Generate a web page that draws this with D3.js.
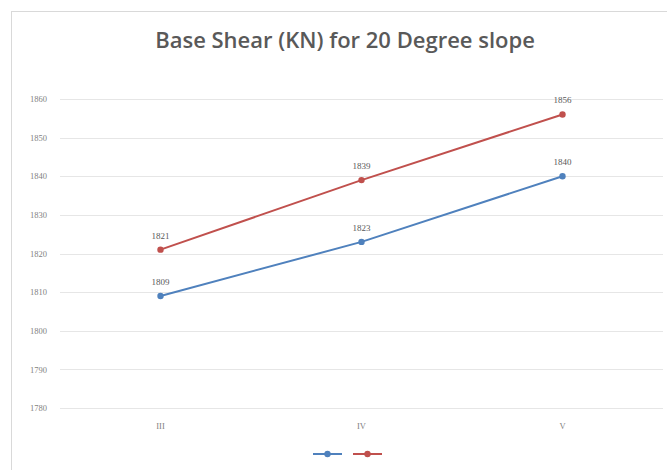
<!DOCTYPE html>
<html>
<head>
<meta charset="utf-8">
<script src="https://cdn.jsdelivr.net/npm/d3@7"></script>
<style>
  body { margin: 0; background: #fff; }
  text { font-family: "Liberation Serif", serif; }
</style>
</head>
<body>
<svg id="chart"></svg>
<script>
// categories and series values
const categories = ["III", "IV", "V"];
const seriesBlue = [1809, 1823, 1840];
const seriesRed = [1821, 1839, 1856];
const yTicks = [1780, 1790, 1800, 1810, 1820, 1830, 1840, 1850, 1860];

const width = 667, height = 470;
const svg = d3.select("#chart").attr("width", width).attr("height", height);

// chart frame (right/bottom cropped off in the reference)
svg.append("rect")
  .attr("x", 11.5).attr("y", 11.5)
  .attr("width", 700).attr("height", 500)
  .attr("fill", "#fff").attr("stroke", "#d9d9d9");

svg.append("text")
  .attr("x", 345).attr("y", 48)
  .attr("text-anchor", "middle")
  .style("font-family", "'Open Sans', sans-serif")
  .style("font-size", "22px")
  .style("font-weight", "600")
  .attr("fill", "#595959")
  .text("Base Shear (KN) for 20 Degree slope");

const plotLeft = 60, plotRight = 663;

const x = d3.scaleBand().domain(categories).range([plotLeft, plotRight]);
const y = d3.scaleLinear().domain([1780, 1860]).range([408, 99]);

// gridlines
svg.append("g")
  .selectAll("line")
  .data(yTicks)
  .enter()
  .append("line")
  .attr("x1", plotLeft).attr("x2", plotRight)
  .attr("y1", (d) => Math.round(y(d)) + 0.5)
  .attr("y2", (d) => Math.round(y(d)) + 0.5)
  .attr("stroke", "#e6e6e6");

// y axis labels
const yAxis = svg.append("g")
  .attr("transform", `translate(${plotLeft - 10},0)`)
  .call(d3.axisLeft(y).tickValues(yTicks).tickSize(0).tickFormat(d3.format("d")));
yAxis.select(".domain").remove();
yAxis.selectAll("text")
  .attr("fill", "#7f7f7f")
  .style("font-size", "8.5px")
  .style("font-family", "'Liberation Serif', serif");

// x axis labels
const xAxis = svg.append("g")
  .attr("transform", "translate(0,420)")
  .call(d3.axisBottom(x).tickSize(0));
xAxis.select(".domain").remove();
xAxis.selectAll("text")
  .attr("fill", "#7f7f7f")
  .style("font-size", "8.5px")
  .style("font-family", "'Liberation Serif', serif");

const cx = (c) => x(c) + x.bandwidth() / 2;

const series = [
  { values: seriesBlue, color: "#4f81bd" },
  { values: seriesRed, color: "#c0504d" },
];

const line = d3.line()
  .x((d, i) => cx(categories[i]))
  .y((d) => y(d));

series.forEach((s) => {
  svg.append("path")
    .datum(s.values)
    .attr("d", line)
    .attr("fill", "none")
    .attr("stroke", s.color)
    .attr("stroke-width", 2);

  svg.append("g")
    .selectAll("circle")
    .data(s.values)
    .enter()
    .append("circle")
    .attr("cx", (d, i) => cx(categories[i]))
    .attr("cy", (d) => y(d))
    .attr("r", 3.2)
    .attr("fill", s.color);

  svg.append("g")
    .selectAll("text")
    .data(s.values)
    .enter()
    .append("text")
    .attr("x", (d, i) => cx(categories[i]))
    .attr("y", (d) => y(d) - 11)
    .attr("text-anchor", "middle")
    .attr("fill", "#595959")
    .style("font-size", "9px")
    .text((d) => d);
});

// legend (entries have no names)
const legend = svg.append("g").attr("transform", "translate(0,454)");
series.forEach((s, i) => {
  const lx = 313 + i * 40;
  legend.append("line")
    .attr("x1", lx).attr("x2", lx + 29)
    .attr("y1", 0).attr("y2", 0)
    .attr("stroke", s.color).attr("stroke-width", 2);
  legend.append("circle")
    .attr("cx", lx + 14.5).attr("cy", 0).attr("r", 3.2)
    .attr("fill", s.color);
});
</script>
</body>
</html>
